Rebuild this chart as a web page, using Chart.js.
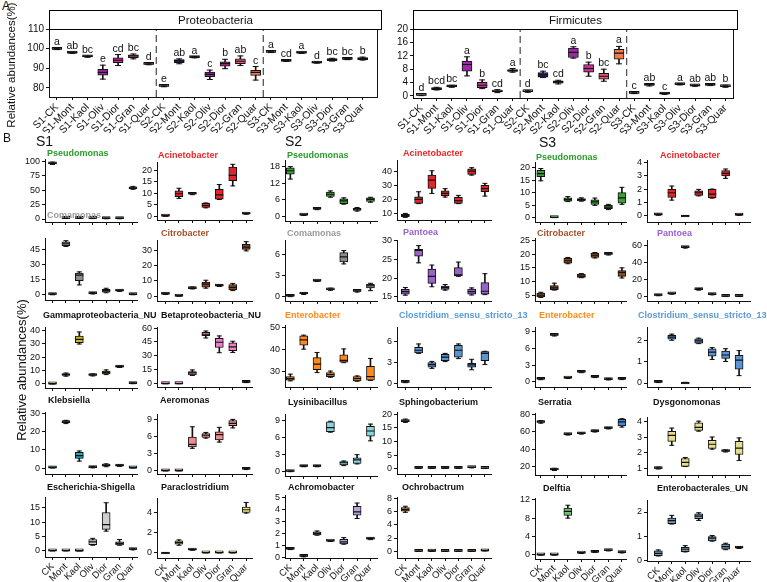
<!DOCTYPE html>
<html><head><meta charset="utf-8">
<script src="https://cdn.jsdelivr.net/npm/chart.js"></script>
<style>
html,body{margin:0;padding:0;background:#fff}
body{width:767px;height:582px;overflow:hidden;position:relative;font-family:Arial,"Liberation Sans",Helvetica,sans-serif;color:#111}
canvas{position:absolute}
.lab{position:absolute;white-space:nowrap;line-height:1}
.gt{position:absolute;white-space:nowrap;font-weight:bold;font-size:9px;line-height:10px}
.band{position:absolute;box-sizing:border-box;border:1px solid #000;text-align:center;font-size:11.5px;line-height:18px}
.vlab{position:absolute;text-align:center;transform:rotate(-90deg);white-space:nowrap}
</style></head>
<body>
<script>
// ===================== DATA =====================
// Panel A categories
const panelACategories = ['S1-CK','S1-Mont','S1-Kaol','S1-Oliv','S1-Dior','S1-Gran','S1-Quar',
  'S2-CK','S2-Mont','S2-Kaol','S2-Oliv','S2-Dior','S2-Gran','S2-Quar',
  'S3-CK','S3-Mont','S3-Kaol','S3-Oliv','S3-Dior','S3-Gran','S3-Quar'];
// box stats: [min, q1, median, q3, max]
const proteobacteria = [
  [99.5,99.7,99.8,99.9,100.1],[97.6,97.8,97.9,98.1,98.3],[95.6,95.8,96.0,96.1,96.3],[84.5,86.5,87.9,89.5,91.6],
  [91.4,92.9,94.1,95.3,97.0],[94.8,95.4,96.3,96.8,97.3],[91.8,92.0,92.2,92.4,92.6],
  [80.6,80.8,81.0,81.2,81.4],[92.3,92.9,93.8,94.4,94.8],[95.3,95.5,95.6,95.8,96.0],[84.3,85.7,86.9,88.1,89.1],
  [89.8,91.1,92.4,93.3,94.6],[91.4,92.4,93.6,94.8,96.3],[84.0,86.4,87.9,89.0,90.9],
  [98.0,98.1,98.3,98.4,98.6],[93.5,93.6,93.8,94.0,94.1],[97.6,97.8,97.9,98.1,98.2],[92.6,92.7,92.9,93.1,93.3],
  [93.7,93.9,94.4,94.9,95.1],[94.4,94.6,94.7,94.8,95.0],[94.2,94.4,94.9,95.5,95.7]];
const proteobacteriaLetters = ['a','ab','bc','e','cd','bc','d','e','ab','a','c','b','ab','c','a','cd','a','d','bc','bc','b'];
const proteobacteriaTicks = [80,90,100,110];
const firmicutes = [
  [0.1,0.2,0.3,0.5,0.7],[1.8,1.9,2.2,2.5,2.6],[2.6,2.7,2.9,3.0,3.2],[6.0,7.4,9.4,10.4,11.7],
  [2.2,2.5,3.2,4.1,4.8],[1.0,1.2,1.4,1.6,1.9],[7.1,7.3,7.6,7.9,8.2],
  [1.1,1.3,1.4,1.5,1.7],[5.5,5.6,6.3,7.0,7.4],[3.6,3.8,4.2,4.5,4.7],[11.3,11.5,13.0,14.3,14.7],
  [5.9,7.1,8.2,9.4,10.1],[4.4,5.0,5.9,6.8,8.0],[9.6,11.0,12.8,13.9,14.8],
  [0.7,0.8,0.9,1.0,1.1],[3.0,3.2,3.3,3.4,3.5],[0.5,0.6,0.7,0.8,0.9],[3.3,3.4,3.5,3.6,3.7],
  [2.9,3.0,3.1,3.2,3.3],[3.1,3.2,3.3,3.4,3.5],[2.6,2.8,2.9,3.0,3.2]];
const firmicutesLetters = ['d','bcd','bc','a','b','cd','a','d','bc','cd','a','b','bc','a','c','ab','c','a','ab','ab','b'];
const firmicutesTicks = [0,4,8,12,16,20];

// Panel B categories
const treatments = ['CK','Mont','Kaol','Oliv','Dior','Gran','Quar'];

// S1
const s1Pseudomonas = [[94.5,95.5,96.5,97.5,98.5],[0.8,1.2,1.6,2.0,2.4],[0.8,1.2,1.6,2.0,2.4],[0.7,1.1,1.5,1.9,2.3],[0.4,0.7,1.0,1.3,1.6],[0.4,0.7,1.0,1.3,1.6],[51.5,52.5,54.0,55.5,56.5]];
const s1Acinetobacter = [[0,0.05,0.15,0.25,0.35],[7.8,8.5,9.8,11.1,12.2],[9.4,9.6,9.8,10.0,10.2],[3.7,3.9,4.7,5.6,5.8],[7.3,7.5,9.3,11.7,13.8],[13.2,15.5,17.8,21.4,22.6],[0.9,1.0,1.15,1.3,1.4]];
const s1Comamonas = [[0.2,0.5,0.7,1.0,1.2],[48.3,49.0,51.0,53.0,54.0],[10.0,14.3,19.7,21.7,23.0],[1.0,1.4,1.7,2.0,2.4],[2.2,2.7,4.3,5.7,6.7],[3.6,4.0,4.3,4.6,5.0],[0.2,0.4,0.7,0.9,1.1]];
const s1Citrobacter = [[1.2,1.4,1.6,1.9,2.1],[0,0.1,0.2,0.35,0.5],[4.8,5.0,5.3,5.6,6.0],[5.3,6.0,7.9,9.3,10.5],[6.4,6.7,7.0,7.3,7.6],[3.7,4.2,5.8,7.7,8.4],[29.7,30.7,32.2,34.0,35.7]];
const s1Gammaproteobacteria = [[0,0.05,0.1,0.2,0.3],[5.8,6.3,7.0,7.6,8.2],[29.8,30.8,33.3,35.8,38.8],[6.0,6.3,6.8,7.2,7.5],[7.0,7.5,8.7,9.7,10.5],[12.3,12.6,13.0,13.3,13.6],[0.2,0.35,0.5,0.7,0.9]];
const s1Betaproteobacteria = [[0,0.1,0.2,0.3,0.4],[0,0.05,0.1,0.2,0.3],[8.9,9.6,11.7,13.1,14.9],[49.3,51.8,53.3,55.4,56.8],[33.4,39.0,44.7,49.0,51.5],[33.7,35.5,39.8,44.0,45.8],[1.2,1.5,1.8,2.1,2.4]];
const s1Klebsiella = [[0,0.1,0.2,0.3,0.5],[24.5,25.0,25.4,25.8,26.3],[3.8,5.3,6.8,8.7,9.4],[0.1,0.25,0.4,0.6,0.8],[0.7,1.0,1.5,2.0,2.3],[0.9,1.1,1.3,1.6,1.8],[0,0.05,0.1,0.2,0.3]];
const s1Aeromonas = [[0,0.02,0.05,0.08,0.1],[0,0.02,0.04,0.06,0.08],[4.0,4.25,4.7,6.0,7.8],[5.8,5.9,6.3,6.6,6.8],[5.1,5.5,6.4,6.9,7.7],[7.6,8.0,8.4,8.9,9.1],[0.25,0.3,0.35,0.4,0.45]];
const s1Escherichia = [[0,0.05,0.1,0.15,0.2],[0,0.05,0.1,0.15,0.2],[0,0.03,0.06,0.1,0.14],[2.0,2.2,3.2,4.0,4.4],[6.9,7.5,9.2,13.4,16.8],[2.0,2.1,2.65,3.2,4.0],[0.4,0.5,0.6,0.7,0.8]];
const s1Paraclostridium = [[0,0,0.01,0.02,0.03],[0.77,0.87,1.03,1.2,1.3],[0.27,0.3,0.33,0.36,0.4],[0,0.01,0.03,0.04,0.05],[0,0.01,0.03,0.04,0.05],[0,0.01,0.03,0.04,0.05],[3.97,4.03,4.3,4.57,5.03]];
// S2
const s2Pseudomonas = [[13.5,15.3,16.5,17.6,18.0],[0.3,0.4,0.5,0.6,0.7],[2.4,2.55,2.7,2.85,3.0],[6.9,7.2,8.0,8.8,9.2],[4.4,4.6,5.6,6.3,6.7],[1.9,2.1,2.55,2.9,3.2],[5.1,5.35,6.1,6.7,6.9]];
const s2Acinetobacter = [[7.4,7.9,8.8,9.5,10.2],[17.2,17.4,20.2,22.1,25.7],[24.5,28.1,34.0,37.6,40.7],[21.9,22.9,24.5,26.4,27.9],[17.2,17.4,19.3,21.7,23.1],[37.6,38.1,40.5,42.1,42.9],[22.6,25.7,27.9,30.2,31.7]];
const s2Comamonas = [[0.05,0.1,0.15,0.2,0.25],[0.35,0.42,0.5,0.55,0.6],[2.2,2.25,2.3,2.35,2.4],[0.95,1.0,1.1,1.2,1.25],[4.7,5.0,5.7,6.3,6.6],[0.7,0.8,0.86,0.95,1.05],[0.9,1.3,1.6,1.8,1.95]];
const s2Pantoea = [[15.45,15.7,16.4,17.0,17.5],[24.1,25.9,27.4,27.7,28.7],[17.7,18.6,20.5,22.4,23.5],[16.8,17.0,17.5,17.9,18.3],[20.5,20.6,20.9,22.8,24.3],[15.5,15.7,16.4,17.1,17.4],[15.6,15.7,16.5,18.8,21.2]];
const s2Enterobacter = [[25.8,26.1,26.8,27.7,28.8],[40.1,41.9,44.3,46.1,46.4],[29.5,30.8,33.3,36.3,38.6],[27.4,27.7,28.6,29.5,30.2],[34.0,34.2,35.0,37.5,40.2],[25.6,25.8,26.8,27.7,28.0],[26.0,26.1,27.7,32.3,35.9]];
const s2Clostridium = [[0.05,0.1,0.15,0.2,0.25],[4.25,4.3,4.7,5.1,5.6],[2.1,2.27,2.65,2.93,3.1],[3.07,3.2,3.7,4.1,4.25],[3.5,3.7,4.7,5.4,5.6],[1.9,2.27,2.6,2.83,3.4],[2.65,3.2,4.25,4.5,4.55]];
const s2Lysinibacillus = [[0.05,0.08,0.12,0.16,0.2],[0.9,0.95,1.0,1.05,1.1],[0.9,0.95,1.0,1.05,1.1],[6.9,7.0,7.7,8.7,8.8],[1.1,1.2,1.6,1.8,1.9],[1.4,1.5,2.1,2.45,3.0],[5.4,6.2,7.1,7.9,8.3]];
const s2Sphingobacterium = [[17.0,17.3,17.6,17.9,18.2],[0.15,0.2,0.25,0.3,0.35],[0.15,0.2,0.25,0.3,0.35],[0.15,0.2,0.25,0.3,0.35],[0.15,0.2,0.25,0.3,0.35],[0.35,0.42,0.5,0.58,0.65],[0.1,0.15,0.2,0.25,0.3]];
const s2Achromobacter = [[0.65,0.68,0.71,0.75,0.78],[0.05,0.08,0.11,0.14,0.17],[1.85,1.87,2.0,2.14,2.2],[1.33,1.35,1.37,1.4,1.42],[1.1,1.12,1.3,1.5,1.65],[3.24,3.52,3.8,4.26,4.53],[1.48,1.52,1.57,1.6,1.63]];
const s2Ochrobactrum = [[5.92,6.08,6.33,6.63,6.84],[0,0.01,0.02,0.03,0.04],[0.02,0.03,0.05,0.07,0.08],[0,0.01,0.02,0.03,0.04],[0,0.01,0.02,0.03,0.04],[0,0.01,0.02,0.03,0.04],[0.07,0.08,0.1,0.12,0.13]];
// S3
const s3Pseudomonas = [[14.7,16.3,17.6,18.9,19.6],[0,0.02,0.05,0.08,0.1],[6.4,6.6,7.2,7.9,8.4],[6.6,6.7,7.2,7.6,7.9],[4.9,5.3,6.3,7.1,7.8],[3.2,3.6,4.2,4.9,5.3],[5.3,5.8,7.9,10.0,12.1]];
const s3Acinetobacter = [[0.05,0.08,0.1,0.12,0.15],[1.18,1.38,1.73,1.98,2.23],[0,0,0.01,0.02,0.03],[1.5,1.53,1.73,1.88,1.98],[1.33,1.35,1.63,1.98,2.0],[2.8,2.98,3.18,3.38,3.5],[0.05,0.06,0.08,0.1,0.11]];
const s3Citrobacter = [[4.2,4.4,5.0,5.8,6.1],[6.9,7.0,7.7,8.5,9.4],[16.5,16.7,17.6,18.5,18.8],[11.4,11.5,12.0,12.7,12.9],[18.6,18.8,19.6,20.4,20.6],[19.7,19.9,20.1,20.3,20.5],[11.3,11.9,13.3,14.0,15.0]];
const s3Pantoea = [[1.0,1.3,1.6,1.9,2.2],[2.8,3.2,3.5,3.9,4.2],[56.5,57.0,57.3,57.6,58.0],[7.6,8.1,8.6,9.0,9.4],[2.1,2.4,2.7,3.0,3.3],[0.1,0.2,0.4,0.6,0.8],[0.1,0.2,0.4,0.6,0.8]];
const s3Enterobacter = [[0.4,0.48,0.54,0.6,0.66],[8.2,8.3,8.4,8.5,8.6],[0.62,0.68,0.72,0.77,0.82],[1.65,1.73,1.8,1.87,1.95],[0.78,0.84,0.9,0.96,1.02],[0.36,0.42,0.48,0.55,0.62],[0.42,0.48,0.54,0.6,0.66]];
const s3Clostridium = [[0.02,0.03,0.05,0.07,0.09],[2.03,2.08,2.18,2.27,2.32],[0,0,0.01,0.02,0.03],[1.87,1.89,2.0,2.1,2.13],[1.12,1.28,1.47,1.62,1.68],[1.02,1.17,1.33,1.52,1.63],[0.35,0.66,1.09,1.31,1.54]];
const s3Serratia = [[70.0,70.8,71.5,72.3,73.0],[15.2,15.8,16.6,17.2,17.8],[56.3,56.7,57.0,57.4,57.8],[57.4,57.8,58.1,58.5,58.9],[59.8,60.3,60.8,61.3,61.8],[63.4,63.8,64.2,64.6,65.0],[65.5,66.7,71.5,74.6,75.2]];
const s3Dysgonomonas = [[0.94,0.97,1.0,1.03,1.06],[2.48,2.74,3.13,3.39,3.6],[1.1,1.11,1.37,1.62,1.69],[3.4,3.45,3.65,3.94,4.05],[2.23,2.27,2.55,2.81,3.02],[2.05,2.08,2.12,2.15,2.18],[1.49,1.88,2.3,2.74,2.96]];
const s3Delftia = [[0,0.01,0.02,0.03,0.04],[0,0.01,0.02,0.03,0.04],[8.0,8.6,9.45,10.2,10.8],[0.35,0.4,0.44,0.48,0.52],[0.56,0.6,0.65,0.7,0.74],[0.9,0.95,1.0,1.05,1.1],[0.45,0.52,0.58,0.64,0.7]];
const s3Enterobacterales = [[0.17,0.18,0.28,0.38,0.42],[1.5,1.51,1.64,1.75,1.86],[0.34,0.35,0.45,0.53,0.6],[1.65,1.72,1.83,1.92,1.97],[0.79,0.8,0.91,0.98,1.02],[0.43,0.45,0.56,0.66,0.7],[0.48,0.5,0.52,0.54,0.56]];

// Panel B: chart list (title, stats, y tick labels)
const panelB = [
  ['Pseudomonas', s1Pseudomonas, [0,25,50,75,100]],
  ['Acinetobacter', s1Acinetobacter, [0,5,10,15,20]],
  ['Comamonas', s1Comamonas, [0,15,30,45]],
  ['Citrobacter', s1Citrobacter, [0,10,20,30]],
  ['Gammaproteobacteria_NU', s1Gammaproteobacteria, [0,10,20,30,40]],
  ['Betaproteobacteria_NU', s1Betaproteobacteria, [0,15,30,45,60]],
  ['Klebsiella', s1Klebsiella, [0,10,20,30]],
  ['Aeromonas', s1Aeromonas, [0,3,6,9]],
  ['Escherichia-Shigella', s1Escherichia, [0,5,10,15]],
  ['Paraclostridium', s1Paraclostridium, [0,2,4]],
  ['Pseudomonas', s2Pseudomonas, [0,6,12,18]],
  ['Acinetobacter', s2Acinetobacter, [10,20,30,40]],
  ['Comamonas', s2Comamonas, [0,3,6]],
  ['Pantoea', s2Pantoea, [15,20,25,30]],
  ['Enterobacter', s2Enterobacter, [30,40,50]],
  ['Clostridium_sensu_stricto_13', s2Clostridium, [0,3,6]],
  ['Lysinibacillus', s2Lysinibacillus, [0,3,6,9]],
  ['Sphingobacterium', s2Sphingobacterium, [0,5,10,15,20]],
  ['Achromobacter', s2Achromobacter, [0,1,2,3,4,5]],
  ['Ochrobactrum', s2Ochrobactrum, [0,2,4,6,8]],
  ['Pseudomonas', s3Pseudomonas, [0,5,10,15,20]],
  ['Acinetobacter', s3Acinetobacter, [0,1,2,3,4]],
  ['Citrobacter', s3Citrobacter, [5,10,15,20,25]],
  ['Pantoea', s3Pantoea, [0,20,40,60]],
  ['Enterobacter', s3Enterobacter, [0,3,6,9]],
  ['Clostridium_sensu_stricto_13', s3Clostridium, [0,1,2]],
  ['Serratia', s3Serratia, [20,40,60,80]],
  ['Dysgonomonas', s3Dysgonomonas, [1,2,3,4]],
  ['Delftia', s3Delftia, [0,4,8,12]],
  ['Enterobacterales_UN', s3Enterobacterales, [0,1,2]]
];

// ===================== STYLE / LAYOUT =====================
const treatmentColorsA = ['#c9cde6','#2e1c8c','#22146f','#9e27a8','#c2338f','#e3587a','#f27a4c'];
const boxColor = {Pseudomonas:'#3aa335',Acinetobacter:'#e3262b',Comamonas:'#8c8c8c',Citrobacter:'#8b4a22',
  Gammaproteobacteria_NU:'#c8be28',Betaproteobacteria_NU:'#ec7fc8',Klebsiella:'#1fa9bd',Aeromonas:'#f28b8b',
  'Escherichia-Shigella':'#cfcfcf',Paraclostridium:'#f1ec82',Pantoea:'#9a63c9',Enterobacter:'#ff8a1c',
  Clostridium_sensu_stricto_13:'#5a95d2',Lysinibacillus:'#84d6df',Sphingobacterium:'#b5b5b5',Achromobacter:'#b7a6dc',
  Ochrobactrum:'#c07a33',Serratia:'#3f8bd0',Dysgonomonas:'#e6dc8e',Delftia:'#74c274',Enterobacterales_UN:'#7b9ab8'};
const titleColor = {Pseudomonas:'#2a9d2a',Acinetobacter:'#e8262b',Comamonas:'#9a9a9a',Citrobacter:'#a2522a',
  Pantoea:'#9a5fd0',Enterobacter:'#ff8c1a',Clostridium_sensu_stricto_13:'#5b9bd5'};
// columns: axis left px, axis right px, x range
const cols = [
  {l:45,r:140,xMin:-0.56,xMax:6.36},{l:157,r:255,xMin:-0.63,xMax:6.49},
  {l:285,r:380,xMin:-0.40,xMax:6.55},{l:397,r:494,xMin:-0.63,xMax:6.52},
  {l:535,r:629,xMin:-0.43,xMax:6.36},{l:647,r:753,xMin:-0.84,xMax:6.87}];
// per chart: [top, bottom, yMin, yMax, titleX, titleY]
const layoutB = [
  [159,222,-5.2,104,47,153],[162,220,-1.6,23.6,158,155],[238,300,-5,56.7,47,215],[240,301,-3.1,36.8,161,233],
  [327,388,-3,42.5,43,315],[327,387,-3.5,61.1,161,315],[412,474,-3.3,30.9,48,400],[414,474,-0.53,10.05,160,400],
  [497,557,-2.1,18.8,47,487],[498,558,-0.5,5.47,161,487],
  [160,221,-1.7,20.4,287,155],[160,220,5.5,48.4,403,153],[240,301,-0.57,8.1,287,233],[240,301,13.9,30.2,403,232],
  [325,387,23,51,285,315],[327,387,-0.57,8.03,399,315],[414,476,-0.7,10.05,288,402],[412,474,-1.9,20.8,399,402],
  [495,558,-0.05,5.2,288,487],[497,558,-1.0,8.24,402,487],
  [162,222,-1.74,22.2,536,157],[160,222,-0.45,4.17,660,155],[238,301,2.9,25.9,537,233],[240,301,-5.1,65.9,657,233],
  [327,387,-0.9,9.8,539,315],[327,387,-0.19,2.66,638,315],[413,475,10,81.8,538,402],[417,475,0.55,4.32,653,402],
  [498,559,-0.87,12.37,543,488],[500,561,-0.04,2.5,657,488]];

// ===================== RENDER =====================
Chart.defaults.font.family = 'Arial, "Liberation Sans", Helvetica, sans-serif';
Chart.defaults.color = '#111';
Chart.defaults.animation = false;

const letterPlugin = {
  id: 'letters',
  afterDatasetsDraw(chart) {
    const o = chart.options.plugins.letters;
    if (!o || !o.text) return;
    const ctx = chart.ctx, xs = chart.scales.x, ys = chart.scales.y;
    ctx.save();
    ctx.font = o.size + 'px Arial, "Liberation Sans", sans-serif';
    ctx.fillStyle = '#111'; ctx.textAlign = 'center'; ctx.textBaseline = 'alphabetic';
    o.text.forEach((t, i) => ctx.fillText(t, xs.getPixelForValue(i), ys.getPixelForValue(o.stats[i][4]) - 3));
    ctx.restore();
  }
};

function boxChart(c) {
  const L = Math.round(c.left), R = Math.round(c.right), T = Math.round(c.top), B = Math.round(c.bottom);
  const yW = c.yAxisW, padT = c.padT, padR = c.padR, xH = c.xAxisH;
  const W = yW + (R - L) + padR, H = padT + (B - T) + xH;
  const cv = document.createElement('canvas');
  cv.width = W; cv.height = H;
  Object.assign(cv.style, {left: (L - yW) + 'px', top: (T - padT) + 'px', width: W + 'px', height: H + 'px'});
  document.body.appendChild(cv);
  const s = c.stats, idx = s.map((_, i) => i);
  const pts = k => idx.map(i => ({x: i, y: s[i][k]}));
  const datasets = [
    {type:'bar', data: idx.map(i => ({x:i, y:[s[i][0], s[i][4]]})), backgroundColor:'#111', barThickness:1, grouped:false, order:5, xAxisID:'x', yAxisID:'y'},
    {type:'bar', data: idx.map(i => ({x:i, y:[s[i][1], s[i][3]]})), backgroundColor:c.colors, borderColor:'#111', borderWidth:1,
      borderSkipped:false, barThickness:c.boxW, minBarLength:c.minBar, grouped:false, order:4, xAxisID:'x', yAxisID:'y'},
    {type:'line', showLine:false, data: pts(0), pointStyle:'line', pointRadius:c.capR, pointHoverRadius:c.capR, pointBorderColor:'#111', pointBorderWidth:1, order:3, xAxisID:'x', yAxisID:'y'},
    {type:'line', showLine:false, data: pts(4), pointStyle:'line', pointRadius:c.capR, pointHoverRadius:c.capR, pointBorderColor:'#111', pointBorderWidth:1, order:3, xAxisID:'x', yAxisID:'y'},
    {type:'line', showLine:false, data: pts(2), pointStyle:'line', pointRadius:c.boxW/2, pointHoverRadius:c.boxW/2, pointBorderColor:'#111', pointBorderWidth:1.2, order:2, xAxisID:'x', yAxisID:'y'}
  ];
  (c.dividers || []).forEach(d => datasets.push({type:'line', data:[{x:d, y:c.yMin}, {x:d, y:c.yMax}], borderColor:'#555',
    borderWidth:1.3, borderDash:[7,4], pointRadius:0, order:10, xAxisID:'x', yAxisID:'y'}));
  const scales = {
    x: {type:'linear', min:c.xMin, max:c.xMax, offset:false,
      grid:{display:true, drawOnChartArea:false, drawTicks:true, tickLength:3, color:'#111', offset:false},
      border:{display:true, color:'#111', width:1},
      ticks:{display:!!c.labels, autoSkip:false, maxRotation:45, minRotation:45, padding:1, color:'#111',
        font:{size:c.xFont}, callback:(v, i) => c.labels ? c.labels[i] : ''},
      afterBuildTicks: ax => { ax.ticks = idx.map(v => ({value: v})); },
      afterFit: ax => { ax.height = xH; }},
    y: {type:'linear', min:c.yMin, max:c.yMax,
      grid:{display:true, drawOnChartArea:false, drawTicks:true, tickLength:3, color:'#111'},
      border:{display:true, color:'#111', width:1},
      ticks:{autoSkip:false, padding:2, color:'#111', font:{size:c.yFont}, callback: v => String(v)},
      afterBuildTicks: ax => { ax.ticks = c.ticks.map(v => ({value: v})); },
      afterFit: ax => { ax.width = yW; }}
  };
  if (c.frame) {
    scales.x2 = {type:'linear', position:'top', display:true, grid:{display:false, drawTicks:false}, ticks:{display:false},
      border:{display:true, color:'#111'}, afterFit: ax => { ax.height = 0; }};
    scales.y2 = {type:'linear', position:'right', display:true, grid:{display:false, drawTicks:false}, ticks:{display:false},
      border:{display:true, color:'#111'}, afterFit: ax => { ax.width = 0; }};
  }
  new Chart(cv, {
    type: 'bar',
    data: {datasets},
    options: {responsive:false, animation:false, devicePixelRatio:1,
      layout:{padding:{top:padT, right:padR, left:0, bottom:0}},
      plugins:{legend:{display:false}, tooltip:{enabled:false}, letters: c.letters ? {text:c.letters, stats:s, size:10.5} : null},
      scales},
    plugins: [letterPlugin]
  });
}

function addText(cls, text, left, top, style) {
  const d = document.createElement('div');
  d.className = cls; d.textContent = text;
  d.style.left = left + 'px'; d.style.top = top + 'px';
  if (style) Object.assign(d.style, style);
  document.body.appendChild(d);
  return d;
}

// Panel A
const colorsA = panelACategories.map((_, i) => treatmentColorsA[i % 7]);
boxChart({left:49, right:381, top:29, bottom:97, yMin:75.4, yMax:110, ticks:proteobacteriaTicks,
  xMin:-0.52, xMax:20.99, stats:proteobacteria, colors:colorsA, labels:panelACategories,
  yAxisW:30, padT:8, padR:3, xAxisH:36, boxW:10, capR:3, minBar:2, xFont:10.5, yFont:10,
  dividers:[6.5, 13.5], letters:proteobacteriaLetters, frame:true});
boxChart({left:413, right:737, top:29, bottom:98, yMin:-0.6, yMax:20, ticks:firmicutesTicks,
  xMin:-0.55, xMax:20.55, stats:firmicutes, colors:colorsA, labels:panelACategories,
  yAxisW:30, padT:8, padR:3, xAxisH:36, boxW:10, capR:3, minBar:2, xFont:10.5, yFont:10,
  dividers:[6.5, 13.5], letters:firmicutesLetters, frame:true});

// Panel B
panelB.forEach((p, k) => {
  const [name, stats, ticks] = p;
  const lay = layoutB[k];
  const setIdx = Math.floor(k / 10), within = k % 10;
  const col = cols[setIdx * 2 + (within % 2)];
  const bottomRow = within >= 8;
  boxChart({left:col.l, right:col.r, top:lay[0], bottom:lay[1], yMin:lay[2], yMax:lay[3], ticks,
    xMin:col.xMin, xMax:col.xMax, stats, colors:boxColor[name], labels: bottomRow ? treatments : null,
    yAxisW:30, padT:8, padR:3, xAxisH: bottomRow ? 26 : 8, boxW:8, capR:2.5, minBar:2, xFont:9.5, yFont:9});
});

// Text
addText('lab', 'A', 2, 0, {fontSize:'12px'});
addText('lab', 'B', 3, 132, {fontSize:'12px'});
addText('lab', 'S1', 36, 134, {fontSize:'14px'});
addText('lab', 'S2', 285, 134, {fontSize:'14px'});
addText('lab', 'S3', 539, 135, {fontSize:'14px'});
addText('band', 'Proteobacteria', 49, 10, {width:'333px', height:'20px'});
addText('band', 'Firmicutes', 413, 10, {width:'325px', height:'20px'});
addText('vlab', 'Relative abundances(%)', 11 - 70, 65 - 7, {width:'140px', fontSize:'11.5px', lineHeight:'14px'});
addText('vlab', 'Relative abundances(%)', 22 - 80, 370 - 8, {width:'160px', fontSize:'13px', lineHeight:'16px'});
panelB.forEach((p, k) => {
  const name = p[0], lay = layoutB[k];
  addText('gt', name, lay[4], lay[5] - 5, {color: titleColor[name] || '#111'});
});
</script>
</body></html>
